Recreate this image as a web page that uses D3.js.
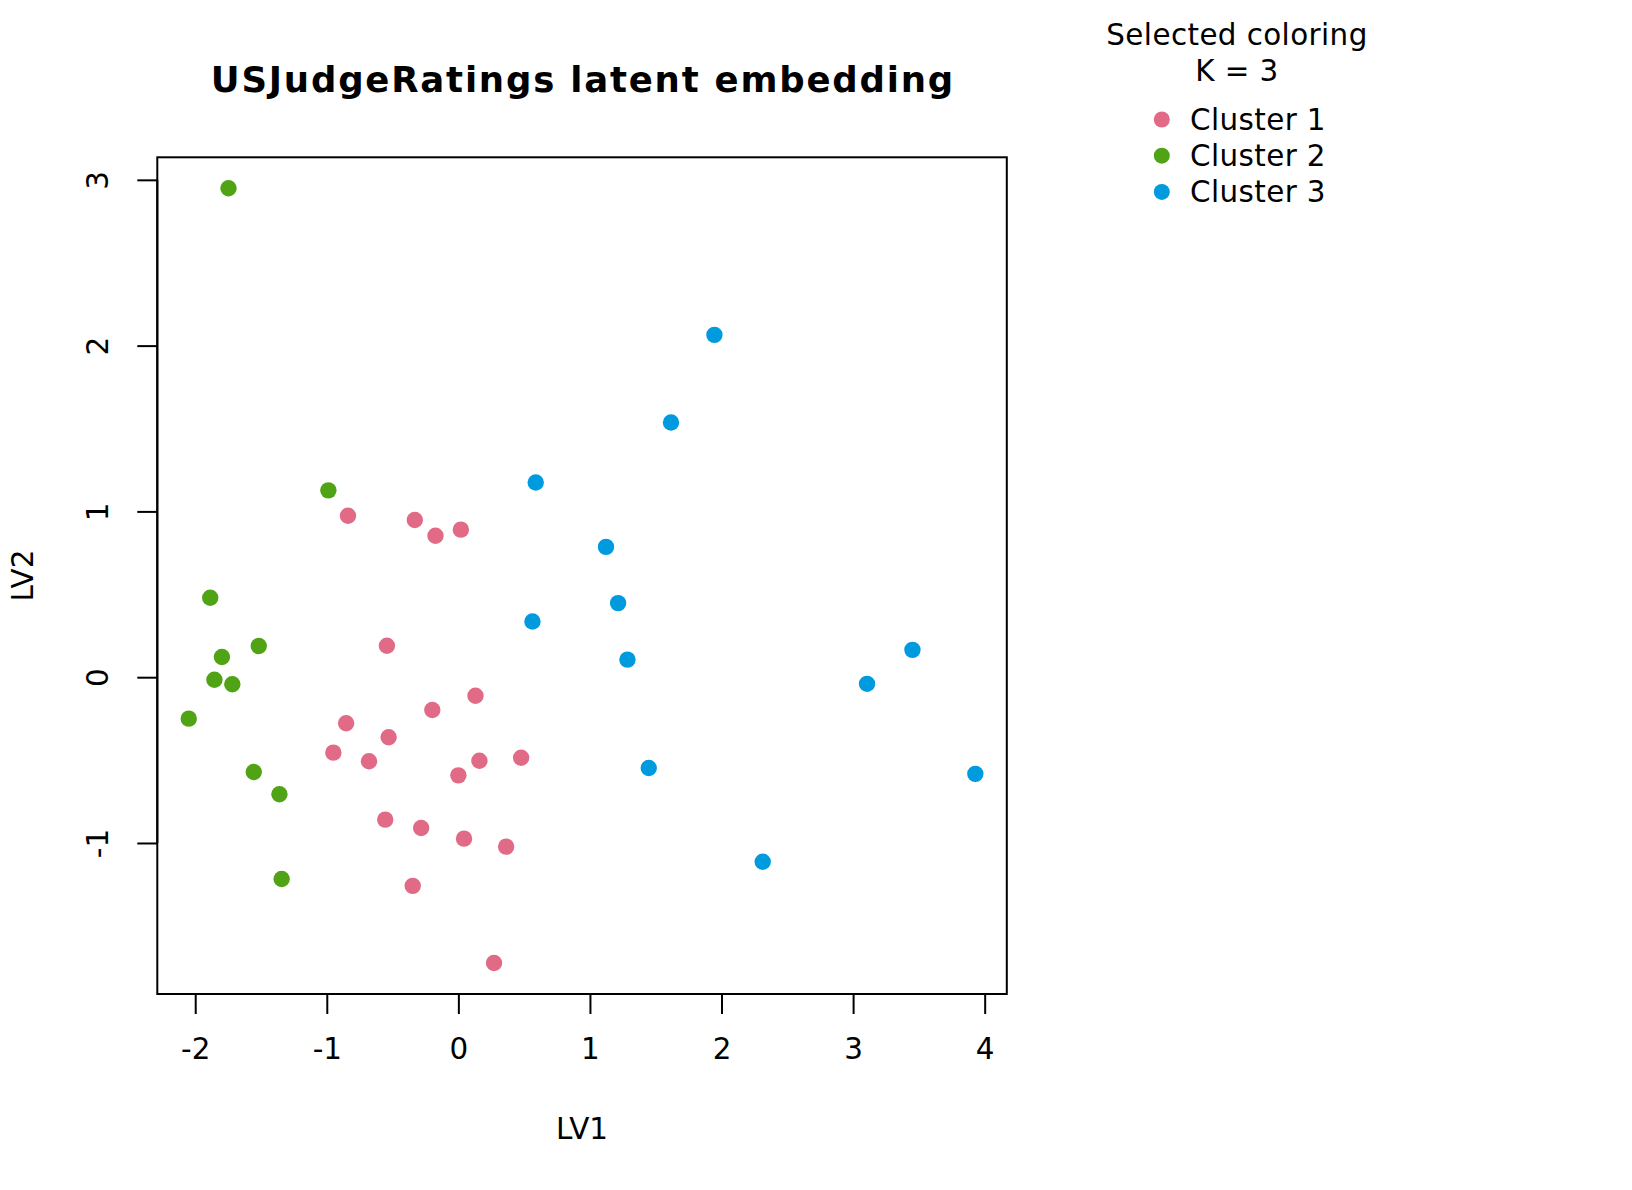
<!DOCTYPE html>
<html>
<head>
<meta charset="utf-8">
<script src="https://cdn.jsdelivr.net/npm/d3@7"></script>
<style>
  html, body { margin: 0; padding: 0; background: #fff; }
  svg { display: block; }
  text { font-family: "DejaVu Sans", sans-serif; fill: #000; }
</style>
</head>
<body>
<svg id="chart" width="1632" height="1190"></svg>
<script>
// ---- Data ----
const clusterNames = ["Cluster 1", "Cluster 2", "Cluster 3"];
const clusterColors = ["#E16A86", "#50A315", "#009ADE"];

const cluster1LV1 = [-0.839, -0.331, -0.174, 0.019, -0.543, 0.130, -0.198, -0.853, -0.530, -0.950,
                     -0.679, 0.160, 0.477, 0.000, -0.556, -0.283, 0.043, 0.363, -0.347, 0.271];
const cluster1LV2 = [0.974, 0.948, 0.853, 0.890, 0.190, -0.112, -0.198, -0.278, -0.362, -0.455,
                     -0.507, -0.504, -0.486, -0.592, -0.859, -0.910, -0.974, -1.022, -1.259, -1.724];

const cluster2LV1 = [-1.747, -0.988, -1.886, -1.517, -1.797, -1.854, -1.718, -2.049, -1.555, -1.360, -1.343];
const cluster2LV2 = [2.949, 1.127, 0.479, 0.188, 0.122, -0.015, -0.043, -0.250, -0.572, -0.706, -1.217];

const cluster3LV1 = [1.946, 1.616, 0.588, 1.122, 1.214, 0.563, 1.285, 3.451, 3.106, 1.447, 3.929, 2.313];
const cluster3LV2 = [2.065, 1.536, 1.174, 0.786, 0.447, 0.336, 0.106, 0.165, -0.040, -0.548, -0.583, -1.113];

const xTicks = [-2, -1, 0, 1, 2, 3, 4];
const yTicks = [-1, 0, 1, 2, 3];

const titleText = "USJudgeRatings latent embedding";
const xLabel = "LV1";
const yLabel = "LV2";
const legendTitle = ["Selected coloring", "K = 3"];

// ---- Build points ----
const points = [];
[[cluster1LV1, cluster1LV2], [cluster2LV1, cluster2LV2], [cluster3LV1, cluster3LV2]].forEach((pair, ci) => {
  pair[0].forEach((x, i) => points.push({ x: x, y: pair[1][i], c: ci }));
});

// ---- Layout ----
const plot = { left: 157.3, right: 1006.8, top: 157.3, bottom: 994 };
const baseFont = 29.4;

function padExtent(ext) {
  const r = ext[1] - ext[0];
  return [ext[0] - 0.04 * r, ext[1] + 0.04 * r];
}
const x = d3.scaleLinear().domain(padExtent(d3.extent(points, d => d.x))).range([plot.left, plot.right]);
const y = d3.scaleLinear().domain(padExtent(d3.extent(points, d => d.y))).range([plot.bottom, plot.top]);

const svg = d3.select("#chart");

// Points
svg.append("g").selectAll("circle").data(points).join("circle")
  .attr("cx", d => x(d.x)).attr("cy", d => y(d.y)).attr("r", 8.2)
  .attr("fill", d => clusterColors[d.c]);

// Box
svg.append("rect")
  .attr("x", plot.left).attr("y", plot.top)
  .attr("width", plot.right - plot.left).attr("height", plot.bottom - plot.top)
  .attr("fill", "none").attr("stroke", "#000").attr("stroke-width", 2);

// X axis
const xAxis = d3.axisBottom(x).tickValues(xTicks).tickSize(20).tickPadding(24)
  .tickFormat(d => d3.format("d")(d).replace("−", "-"));
const gx = svg.append("g").attr("transform", `translate(0,${plot.bottom})`).call(xAxis);
gx.select(".domain").attr("d", `M${x(xTicks[0])},0H${x(xTicks[xTicks.length - 1])}`).attr("stroke-width", 2);
gx.selectAll(".tick line").attr("stroke-width", 2);
gx.selectAll(".tick text").attr("font-size", baseFont).attr("font-family", "DejaVu Sans").attr("fill", "#000");

// Y axis
const yAxis = d3.axisLeft(y).tickValues(yTicks).tickSize(20).tickPadding(0)
  .tickFormat(d => d3.format("d")(d).replace("−", "-"));
const gy = svg.append("g").attr("transform", `translate(${plot.left},0)`).call(yAxis);
gy.select(".domain").attr("d", `M0,${y(yTicks[0])}V${y(yTicks[yTicks.length - 1])}`).attr("stroke-width", 2);
gy.selectAll(".tick line").attr("stroke-width", 2);
gy.selectAll(".tick text")
  .attr("font-size", baseFont).attr("font-family", "DejaVu Sans").attr("fill", "#000")
  .attr("x", 0).attr("dy", 0)
  .attr("text-anchor", "middle")
  .attr("dominant-baseline", "central")
  .attr("transform", `translate(${98 - plot.left},0) rotate(-90)`);

// Title
svg.append("text").attr("x", (plot.left + plot.right) / 2 + 0.9).attr("y", 79)
  .attr("text-anchor", "middle").attr("dominant-baseline", "central")
  .attr("font-size", 35.5).attr("font-weight", "bold").attr("letter-spacing", 1.8).text(titleText);

// Axis labels
svg.append("text").attr("x", (plot.left + plot.right) / 2).attr("y", 1129)
  .attr("text-anchor", "middle").attr("dominant-baseline", "central")
  .attr("font-size", baseFont).text(xLabel);
svg.append("text")
  .attr("transform", `translate(23,${(plot.top + plot.bottom) / 2}) rotate(-90)`)
  .attr("text-anchor", "middle").attr("dominant-baseline", "central")
  .attr("font-size", baseFont).text(yLabel);

// Legend
const lg = svg.append("g");
legendTitle.forEach((t, i) => {
  lg.append("text").attr("x", 1237).attr("y", 35 + i * 35.7)
    .attr("text-anchor", "middle").attr("dominant-baseline", "central")
    .attr("font-size", baseFont).attr("letter-spacing", 0.4).text(t);
});
clusterNames.forEach((n, i) => {
  const yy = 119.5 + i * 36.2;
  lg.append("circle").attr("cx", 1161.8).attr("cy", yy).attr("r", 8).attr("fill", clusterColors[i]);
  lg.append("text").attr("x", 1190).attr("y", yy)
    .attr("dominant-baseline", "central").attr("font-size", baseFont).attr("letter-spacing", 0.4).text(n);
});
</script>
</body>
</html>
